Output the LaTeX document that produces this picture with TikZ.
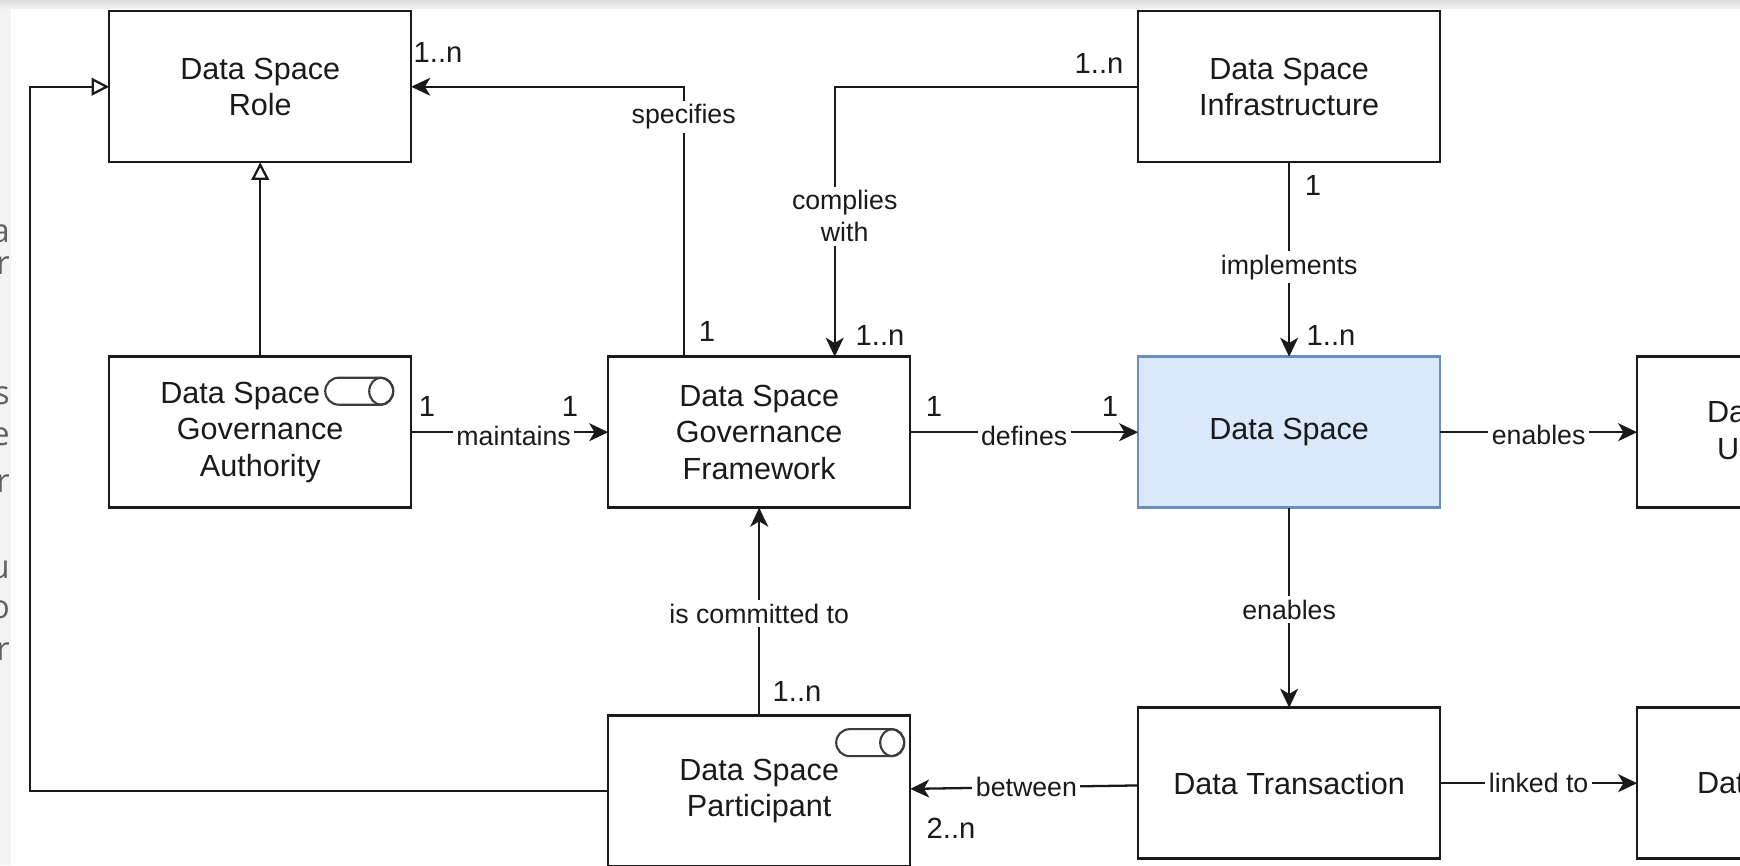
\documentclass[tikz,border=0pt]{standalone}
\usepackage{fontspec}
\setmainfont{Liberation Sans}
\newfontfamily\pagefont{Open Sans}
\usetikzlibrary{arrows.meta,calc}

\definecolor{ink}{HTML}{1A1A1A}
\definecolor{dsfill}{HTML}{DAE8FC}
\definecolor{dsdraw}{HTML}{6C8EBF}
\definecolor{pagegray}{HTML}{F3F3F3}

\tikzstyle{entity}=[
    rectangle,
    line width=0.7pt,
    minimum width=3.02cm,
    minimum height=1.51cm,
    inner sep=0pt,
    outer sep=0pt,
    draw=ink,
    fill=white,
    text=ink,
    align=center,
    font=\fontsize{8.7}{10.4}\selectfont
]
\tikzstyle{dspace}=[
    entity,
    draw=dsdraw,
    fill=dsfill
]
\tikzstyle{rellabel}=[
    fill=white,
    inner sep=1pt,
    text=ink,
    align=center,
    font=\fontsize{7.6}{9.1}\selectfont
]
\tikzstyle{mult}=[
    inner sep=0pt,
    text=ink,
    font=\fontsize{8.3}{10}\selectfont
]
\tikzstyle{pagetext}=[
    inner sep=0pt,
    text=black!62,
    font=\pagefont\fontsize{9.3}{11}\selectfont
]
\tikzstyle{relline}=[line width=0.65pt, draw=ink]
\tikzstyle{generalize}=[-{Triangle[open, length=5pt, width=5pt]}]
\tikzstyle{vhpath}=[to path={|- (\tikztotarget) \tikztonodes}]
\tikzstyle{hvpath}=[to path={-| (\tikztotarget) \tikztonodes}]

\tikzset{
    togglemark/.pic={
        \draw[line width=0.6pt, draw=ink!85, fill=white, rounded corners=0.135cm]
            (-0.34,-0.135) rectangle (0.34,0.135);
        \draw[line width=0.6pt, draw=ink!85] (0.22,0) ellipse (0.12 and 0.135);
    }
}

\begin{document}
\begin{tikzpicture}[>={Stealth[length=5.4pt, width=5.1pt, inset=1.5pt]}]
    \useasboundingbox (0,0) rectangle (17.40,-8.65);
    \clip (0,0) rectangle (17.40,-8.65);

    % page behind the diagram
    \fill[pagegray] (0,0) rectangle (17.40,-8.65);
    \shade[top color=black!12, bottom color=black!5] (0,0) rectangle (17.40,-0.09);
    \foreach \t/\y [count=\i] in {a/2.34, r/2.66, s/3.96, e/4.37, ar/4.84, tu/5.68, o/6.10, r/6.52}
        \node[pagetext, anchor=east] (frag\i) at (0.105,-\y) {\t};
    \fill[white] (0.11,-0.09) rectangle (17.40,-8.65);

    \matrix[row sep=1.92cm, column sep=1.945cm, inner sep=0pt, outer sep=0pt, anchor=north west] at (1.08,-0.10) {
        % TOP ROW
        \node (role) [entity] {Data Space\\Role}; & &[0.31cm]
        \node (infra) [entity] {Data Space\\Infrastructure}; & \\
        % MIDDLE ROW
        \node (auth) [entity] {Data Space\hspace*{0.40cm}\\Governance\\Authority}; &
        \node (fw) [entity] {Data Space\\Governance\\Framework}; &[0.31cm]
        \node (ds) [dspace] {Data Space}; &
        \node (usecase) [entity] {}; \\[0.055cm]
        % BOTTOM ROW
        &
        \node (part) [entity, yshift=-0.08cm] {Data Space\\Participant}; &[0.31cm]
        \node (trans) [entity] {Data Transaction}; &
        \node (product) [entity] {}; \\
    };

    % texts of the boxes cut by the right edge
    \node[entity, draw=none, fill=none, minimum width=0pt, minimum height=0pt, anchor=west] (usecase_t1) at (17.07,-4.12) {Da};
    \node[entity, draw=none, fill=none, minimum width=0pt, minimum height=0pt, anchor=west] (usecase_t2) at (17.17,-4.49) {Us};
    \node[entity, draw=none, fill=none, minimum width=0pt, minimum height=0pt, anchor=west] (product_t) at (16.97,-7.83) {Dat};

    % toggle marks
    \pic at ([xshift=0.99cm, yshift=0.41cm]auth.center) {togglemark};
    \pic at ([xshift=1.11cm, yshift=0.485cm]part.center) {togglemark};

    \coordinate (lcorner) at (0.30,-4.00);

    \path[->]
    % Generalisations to the role
    (auth) edge[relline, generalize] (role)

    % Top connections
    ($(fw.north west)!0.25!(fw.north east)$) edge[relline, vhpath] node[rellabel, pos=0.444] (lspec) {specifies} (role)
    (infra) edge[relline, hvpath] node[rellabel, pos=0.74, xshift=0.1cm] (lcompl) {complies\\with} ($(fw.north west)!0.75!(fw.north east)$)
    (infra) edge[relline] node[rellabel, pos=0.54] (limpl) {implements} (ds)

    % Middle row
    (auth) edge[relline] node[rellabel, pos=0.52, yshift=-0.04cm] (lmaint) {maintains} (fw)
    (fw) edge[relline] node[rellabel, pos=0.5, yshift=-0.04cm] (ldef) {defines} (ds)
    (ds) edge[relline] node[rellabel, yshift=-0.03cm] (lenab1) {enables} (usecase)

    % Bottom row
    (ds) edge[relline] node[rellabel, pos=0.51] (lenab2) {enables} (trans)
    (part) edge[relline] node[rellabel, pos=0.49] (lcommit) {is committed to} (fw)
    (trans) edge[relline] node[rellabel, pos=0.49] (lbetw) {between} (part)
    (trans) edge[relline] node[rellabel] (llink) {linked to} (product)
    ;
    \draw[relline, generalize] (part) -| (lcorner) |- (role);

    % Multiplicities
    \node[mult] (m_role) at (4.38,-0.52) {1..n};
    \node[mult] (m_fwspec) at (7.07,-3.31) {1};
    \node[mult] (m_infra) at (10.99,-0.63) {1..n};
    \node[mult] (m_fwcompl) at (8.80,-3.35) {1..n};
    \node[mult] (m_infrads) at (13.13,-1.85) {1};
    \node[mult] (m_dstop) at (13.31,-3.35) {1..n};
    \node[mult] (m_auth) at (4.27,-4.06) {1};
    \node[mult] (m_fwwest) at (5.70,-4.06) {1};
    \node[mult] (m_fweast) at (9.34,-4.06) {1};
    \node[mult] (m_dswest) at (11.10,-4.06) {1};
    \node[mult] (m_parttop) at (7.97,-6.91) {1..n};
    \node[mult] (m_parteast) at (9.51,-8.28) {2..n};
\end{tikzpicture}
\end{document}
